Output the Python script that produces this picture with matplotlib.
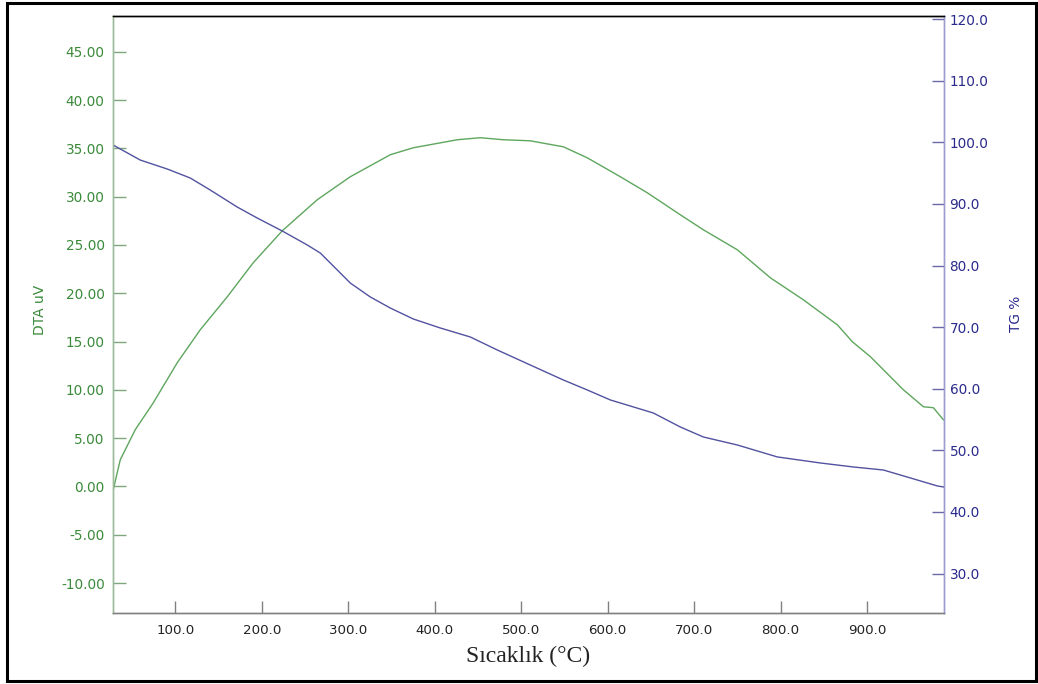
import matplotlib
matplotlib.use("Agg")
import matplotlib.pyplot as plt
from matplotlib.patches import Rectangle
from matplotlib.ticker import FormatStrFormatter

# DTA signal (uV) vs temperature
dta_temp = [28.3, 36.4, 53.7, 74.6, 102.3, 128.9, 160.2, 190.2, 223.8, 264.2,
            302.4, 348.7, 375.3, 426.2, 452.8, 479.4, 510.6, 548.8, 576.5, 614.7,
            645.9, 684.1, 710.7, 750.0, 788.2, 826.4, 865.7, 883.0, 903.9, 942.0,
            965.2, 976.7, 988.3]
dta_uv = [-0.34, 2.76, 5.87, 8.66, 12.81, 16.22, 19.64, 23.16, 26.47, 29.68,
          32.06, 34.34, 35.06, 35.89, 36.10, 35.89, 35.78, 35.16, 34.02, 32.06,
          30.40, 28.12, 26.57, 24.50, 21.60, 19.32, 16.73, 14.98, 13.43, 10.01,
          8.25, 8.15, 6.90]

# TG mass (%) vs temperature
tg_temp = [28.3, 59.5, 90.8, 117.4, 140.5, 171.7, 194.8, 223.8, 252.7, 267.7,
           287.4, 302.4, 325.6, 348.7, 375.3, 406.5, 441.2, 472.4, 510.6, 548.8,
           576.5, 603.1, 614.7, 652.9, 684.1, 710.7, 750.0, 796.3, 846.0, 884.2,
           918.9, 950.1, 981.3, 988.3]
tg_pct = [99.55, 97.12, 95.66, 94.20, 92.25, 89.49, 87.71, 85.60, 83.33, 82.03,
          79.27, 77.16, 74.89, 73.10, 71.32, 69.86, 68.40, 66.29, 63.85, 61.42,
          59.80, 58.18, 57.69, 56.06, 53.79, 52.17, 50.87, 48.93, 47.95, 47.30,
          46.81, 45.52, 44.22, 44.06]

x_ticks = [100, 200, 300, 400, 500, 600, 700, 800, 900]
dta_ticks = [-10, -5, 0, 5, 10, 15, 20, 25, 30, 35, 40, 45]
tg_ticks = [30, 40, 50, 60, 70, 80, 90, 100, 110, 120]

green_txt = "#3a8a3a"
blue_txt = "#2a2a8c"
green_line = "#5ea65e"
blue_line = "#5252a0"

plt.rcParams["font.family"] = ["DejaVu Sans"]

fig = plt.figure(figsize=(10.38, 6.84), dpi=100)
fig.patch.set_facecolor("white")
fig.patches.append(Rectangle((7 / 1038, 3 / 684), 1029 / 1038, 678 / 684,
                             transform=fig.transFigure, fill=False,
                             edgecolor="black", linewidth=2.2))

ax = fig.add_axes([113 / 1038, 71 / 684, 831 / 1038, 597 / 684])
ax2 = ax.twinx()

ax.plot(dta_temp, dta_uv, color=green_line, linewidth=1.0)
ax2.plot(tg_temp, tg_pct, color=blue_line, linewidth=1.0)

ax.set_xlim(28, 989)
ax.set_ylim(-13.1, 48.7)
ax2.set_ylim(23.6, 120.5)

ax.set_xticks(x_ticks)
ax.set_yticks(dta_ticks)
ax2.set_yticks(tg_ticks)
ax.xaxis.set_major_formatter(FormatStrFormatter("%.1f"))
ax.yaxis.set_major_formatter(FormatStrFormatter("%.2f"))
ax2.yaxis.set_major_formatter(FormatStrFormatter("%.1f"))

ax.tick_params(axis="x", direction="in", length=9, width=1, color="#808080",
               labelcolor="#222222", labelsize=9.6, pad=8)
ax.tick_params(axis="y", direction="in", length=9, width=1, color="#7fa77f",
               labelcolor=green_txt, labelsize=9.8, pad=6)
ax2.tick_params(axis="y", direction="in", length=9, width=1, color="#6a6aa8",
                labelcolor=blue_txt, labelsize=9.8, pad=4)

for a in (ax, ax2):
    a.spines["top"].set_color("black")
    a.spines["bottom"].set_color("#808080")
    a.spines["left"].set_color("#9bbb9b")
    a.spines["right"].set_color("#9c9cd0")
    for s in a.spines.values():
        s.set_linewidth(1.0)

ax.set_xlabel("Sıcaklık (°C)", family=["Liberation Serif", "DejaVu Serif"],
              fontsize=17, color="#222222", labelpad=6)

fig.text(40 / 1038, 1 - 310 / 684, "DTA uV", rotation=90, color=green_txt,
         fontsize=10, ha="center", va="center")
fig.text(1016 / 1038, 1 - 314 / 684, "TG %", rotation=90, color=blue_txt,
         fontsize=9.8, ha="center", va="center")

fig.savefig("out.png", dpi=100, facecolor="white")
